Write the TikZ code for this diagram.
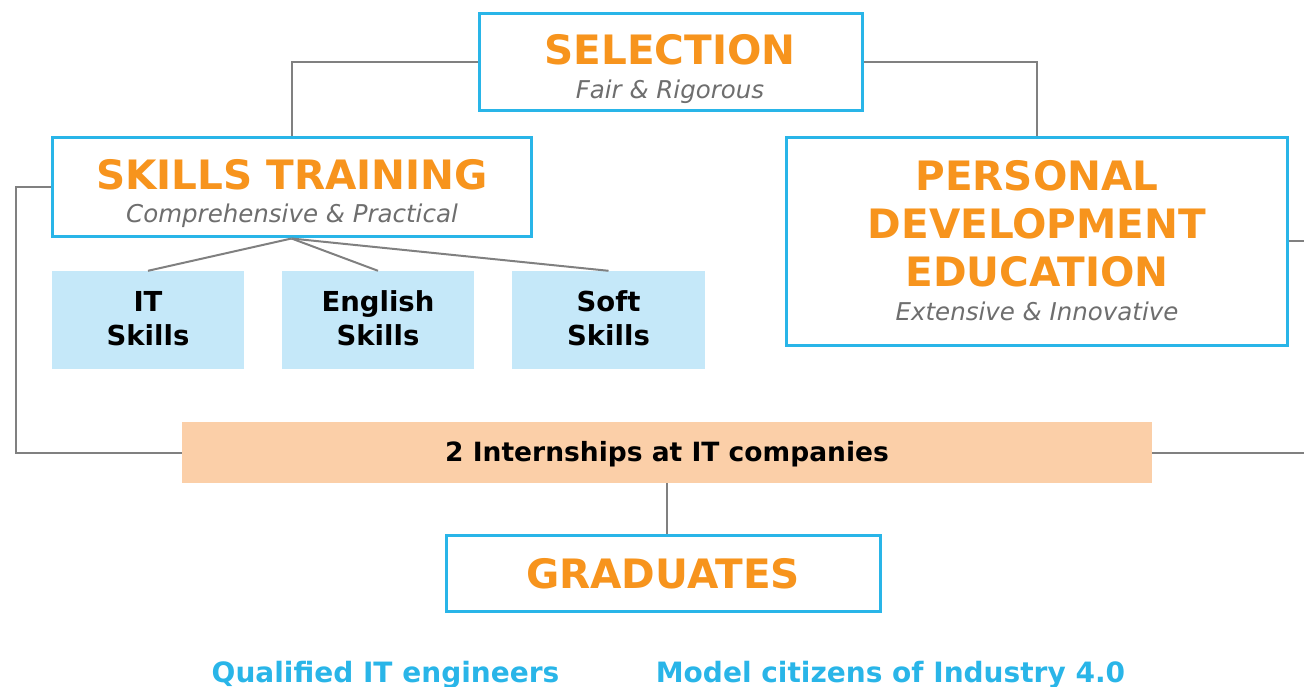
\documentclass[tikz,border=0pt]{standalone}
\usepackage{fontspec}
\setmainfont{DejaVu Sans}
\definecolor{cy}{HTML}{29B5E8}
\definecolor{org}{HTML}{F7941D}
\definecolor{lb}{HTML}{C5E8F9}
\definecolor{pch}{HTML}{FBCFA8}
\definecolor{gtx}{HTML}{6E6E6E}
\definecolor{ln}{HTML}{808080}
\begin{document}
\begin{tikzpicture}[x=1pt,y=-1pt,
  bluebox/.style={draw=cy,line width=3pt,fill=white,inner sep=0pt},
  skillbox/.style={fill=lb,inner sep=0pt,minimum width=192pt,minimum height=98pt},
  conn/.style={draw=ln,line width=2pt},
  ttl/.style={text=org,font=\fontsize{40.5}{48}\selectfont\bfseries,anchor=base,inner sep=0pt},
  sub/.style={text=gtx,font=\fontsize{24.5}{28}\selectfont\itshape,anchor=base,inner sep=0pt},
  skl/.style={font=\fontsize{27.5}{34}\selectfont\bfseries,anchor=base,inner sep=0pt},
  outc/.style={text=cy,font=\fontsize{28}{34}\selectfont\bfseries,anchor=base,inner sep=0pt}]
\useasboundingbox (0,0) rectangle (1304,687);
% boxes
\node[bluebox,minimum width=383pt,minimum height=97pt] (sel) at (670.5,62.5) {};
\node[bluebox,minimum width=479pt,minimum height=99pt] (st) at (291.5,187.5) {};
\node[bluebox,minimum width=501pt,minimum height=207pt] (pd) at (1036.5,241.5) {};
\node[skillbox] (it) at (148,320) {};
\node[skillbox] (en) at (378,320) {};
\node[skillbox,minimum width=193pt] (so) at (608.5,320) {};
\node[fill=pch,inner sep=0pt,minimum width=970pt,minimum height=61pt] (in) at (667,452.5) {};
\node[bluebox,minimum width=434pt,minimum height=76pt] (gr) at (663,573) {};
% connectors
\draw[conn] (sel.west) -| (st.north);
\draw[conn] (sel.east) -| (pd.north);
\draw[conn] (st.west) -- ++(-35,0) coordinate (lc) |- (in.west);
\draw[conn] (pd.east) -- ++(40,0) coordinate (rc) |- (in.east);
\draw[conn] (st.south) -- (it.north);
\draw[conn] (st.south) -- (en.north);
\draw[conn] (st.south) -- (so.north);
\draw[conn] (in.south) -- (in.south |- gr.north);
% texts
\node[ttl] (selt) at (670,65) {SELECTION};
\node[sub] (sels) at (670,98.5) {Fair \& Rigorous};
\node[ttl] (stt) at (292,190) {SKILLS TRAINING};
\node[sub] (sts) at (292,222.5) {Comprehensive \& Practical};
\node[ttl] (pdt1) at (1037,191) {PERSONAL};
\node[ttl] (pdt2) at (1037,239) {DEVELOPMENT};
\node[ttl] (pdt3) at (1037,287) {EDUCATION};
\node[sub] (pds) at (1037,320) {Extensive \& Innovative};
\node[skl] (it1) at (148,311) {IT};
\node[skl] (it2) at (148,345) {Skills};
\node[skl] (en1) at (378,311) {English};
\node[skl] (en2) at (378,345) {Skills};
\node[skl] (so1) at (608.5,311) {Soft};
\node[skl] (so2) at (608.5,345) {Skills};
\node[font=\fontsize{26.5}{30}\selectfont\bfseries,anchor=base,inner sep=0pt] (int) at (667,461) {2 Internships at IT companies};
\node[ttl] (grt) at (663,588) {GRADUATES};
\node[outc] (o1) at (385.5,682) {Qualified IT engineers};
\node[outc] (o2) at (890.5,682) {Model citizens of Industry 4.0};
\end{tikzpicture}
\end{document}
